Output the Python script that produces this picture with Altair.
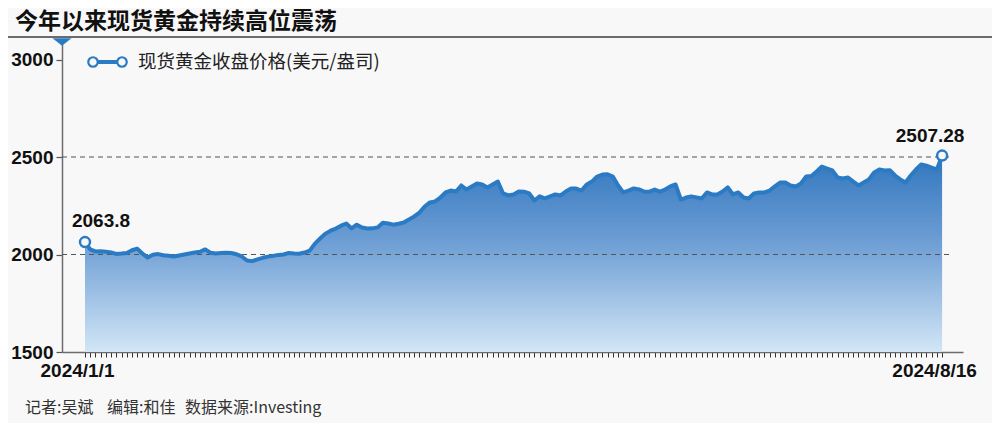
import altair as alt
import pandas as pd

title_text = "今年以来现货黄金持续高位震荡"
legend_label = "现货黄金收盘价格(美元/盎司)"
footer_parts = ["记者:吴斌", "编辑:和佳", "数据来源:Investing"]
x_tick_labels = ["2024/1/1", "2024/8/16"]
y_ticks = [1500, 2000, 2500, 3000]
grid_levels = [2000, 2500]
dates = pd.bdate_range("2024-01-01", "2024-08-16")
prices = [2063.8, 2026, 2016, 2017, 2014, 2010, 2003, 2005, 2008, 2022,
          2030, 2004, 1984, 1999, 2002, 1996, 1994, 1990, 1995, 2000,
          2005, 2010, 2014, 2026, 2009, 2005, 2008, 2009, 2008, 2001,
          1990, 1969, 1966, 1975, 1983, 1989, 1993, 1998, 2000, 2008,
          2005, 2004, 2010, 2020, 2056, 2082, 2107, 2122, 2133, 2148,
          2159, 2134, 2153, 2138, 2133, 2134, 2139, 2163, 2159, 2153,
          2158, 2164, 2180, 2195, 2215, 2246, 2267, 2272, 2292, 2318,
          2328, 2323, 2354, 2333, 2349, 2364, 2359, 2344, 2359, 2374,
          2313, 2303, 2308, 2323, 2322, 2313, 2277, 2298, 2288, 2298,
          2308, 2303, 2323, 2339, 2338, 2328, 2359, 2374, 2400, 2410,
          2411, 2400, 2354, 2318, 2328, 2339, 2334, 2323, 2322, 2333,
          2322, 2333, 2349, 2359, 2282, 2292, 2298, 2293, 2287, 2318,
          2308, 2308, 2323, 2344, 2308, 2318, 2292, 2287, 2313, 2318,
          2318, 2328, 2349, 2369, 2369, 2354, 2349, 2364, 2400, 2402,
          2426, 2451, 2441, 2431, 2395, 2390, 2395, 2374, 2354, 2369,
          2385, 2421, 2436, 2431, 2432, 2405, 2385, 2369, 2405, 2436,
          2462, 2456, 2446, 2436, 2507.28]

n = len(prices)
df = pd.DataFrame({
    "i": list(range(n)),
    "date": [d.strftime("%Y-%m-%d") for d in dates[:n]],
    "price": prices,
})
df["label"] = [str(p) for p in prices]

BG = "#f8f8f8"
BLUE = "#2b7bc4"
NUM_FONT = "Liberation Sans"
NUM_SIZE = 19
CJK_FONT = "Noto Sans CJK SC"

xs = alt.Scale(domain=[-4.4, 168.0], nice=False, zero=False)
ys = alt.Scale(domain=[1500, 3100], nice=False, zero=False)

label_expr = (f"datum.value == 0 ? '{x_tick_labels[0]}' : "
              f"(datum.value == {n-1} ? '{x_tick_labels[1]}' : '')")

x_enc = alt.X("i:Q", scale=xs, axis=alt.Axis(
    values=list(range(n)), labelExpr=label_expr, tickSize=5, tickColor="#333",
    tickWidth=1, domainColor="#6b6b6b", domainWidth=1.5, labelFont=NUM_FONT,
    labelFontSize=NUM_SIZE, labelFontWeight="bold", labelColor="#111",
    labelOffset=-8, labelPadding=4, labelOverlap=False, labelFlush=False,
    labelBound=False, grid=False, title=None))
y_enc = alt.Y("price:Q", scale=ys, axis=alt.Axis(
    values=y_ticks, format="d", tickSize=6, tickColor="#555", tickWidth=1.2,
    domainColor="#6b6b6b", domainWidth=1.5, labelFont=NUM_FONT,
    labelFontSize=NUM_SIZE, labelFontWeight="bold", labelColor="#111",
    labelPadding=3, labelFlush=False, labelOverlap=False, grid=False,
    title=None))

base = alt.Chart(df)

area = base.mark_area(
    color=alt.Gradient(
        gradient="linear",
        stops=[alt.GradientStop(color="#3176be", offset=0),
               alt.GradientStop(color="#6f9fd5", offset=0.45),
               alt.GradientStop(color="#d2e6f6", offset=1)],
        x1=1, x2=1, y1=0, y2=1),
    opacity=1,
).encode(x=x_enc, y=y_enc, y2=alt.datum(1500))

grid = alt.Chart(pd.DataFrame({"price": grid_levels})).mark_rule(
    color="#555", strokeWidth=1, strokeDash=[5, 4]
).encode(y=y_enc, x=alt.value(0), x2=alt.value(888))

line = base.mark_line(color=BLUE, strokeWidth=4, strokeJoin="round",
                      strokeCap="round").encode(x=x_enc, y=y_enc)

ends = alt.Chart(df.iloc[[0, n - 1]])
end_pts = ends.mark_point(filled=True, fill=BG, stroke=BLUE, strokeWidth=2.5,
                          size=100, opacity=1).encode(x=x_enc, y=y_enc)
lab_first = alt.Chart(df.iloc[[0]]).mark_text(
    font=NUM_FONT, fontSize=NUM_SIZE, fontWeight="bold", color="#111",
    align="center", baseline="alphabetic", dx=16, dy=-15
).encode(x=x_enc, y=y_enc, text="label:N")
lab_last = alt.Chart(df.iloc[[n - 1]]).mark_text(
    font=NUM_FONT, fontSize=NUM_SIZE, fontWeight="bold", color="#111",
    align="center", baseline="alphabetic", dx=-12, dy=-14
).encode(x=x_enc, y=y_enc, text="label:N")

one = pd.DataFrame({"t": [title_text]})
title = alt.Chart(one).mark_text(
    font=CJK_FONT, fontSize=23, fontWeight="bold", color="#111",
    align="left", baseline="middle"
).encode(x=alt.value(-47), y=alt.value(-18), text="t:N")
title_rule = alt.Chart(one).mark_rule(color="#6b6b6b", strokeWidth=2).encode(
    x=alt.value(-62), x2=alt.value(938), y=alt.value(-3))
tri = alt.Chart(one).mark_point(
    shape="M-1,-0.4L1,-0.4L0,0.4Z", filled=True, color=BLUE, size=361, opacity=1
).encode(x=alt.value(0), y=alt.value(2))

leg = pd.DataFrame({"t": [legend_label]})
leg_line = alt.Chart(leg).mark_rule(color=BLUE, strokeWidth=4).encode(
    x=alt.value(31), x2=alt.value(60), y=alt.value(22))
leg_c1 = alt.Chart(leg).mark_point(filled=True, fill=BG, stroke=BLUE,
                                   strokeWidth=2.2, size=90, opacity=1).encode(
    x=alt.value(31), y=alt.value(22))
leg_c2 = alt.Chart(leg).mark_point(filled=True, fill=BG, stroke=BLUE,
                                   strokeWidth=2.2, size=90, opacity=1).encode(
    x=alt.value(60), y=alt.value(22))
leg_text = alt.Chart(leg).mark_text(
    font=CJK_FONT, fontSize=18.5, color="#222", align="left", baseline="middle"
).encode(x=alt.value(76), y=alt.value(22), text="t:N")

foot_x = [-37, 45, 123]
footers = []
for txt, fx in zip(footer_parts, foot_x):
    footers.append(alt.Chart(pd.DataFrame({"t": [txt]})).mark_text(
        font=CJK_FONT, fontSize=16, color="#333", align="left", baseline="middle"
    ).encode(x=alt.value(fx), y=alt.value(368), text="t:N"))

chart = alt.layer(
    area, grid, line, end_pts, lab_first, lab_last,
    title_rule, title, tri, leg_line, leg_c1, leg_c2, leg_text, *footers
).properties(
    width=901, height=312,
    padding={"left": 54, "top": 32, "right": 29, "bottom": 71},
    autosize=alt.AutoSizeParams(type="none"),
    background=BG,
).configure_view(stroke=None)

chart.save("out.html", embed_options={"renderer": "svg", "actions": False})
